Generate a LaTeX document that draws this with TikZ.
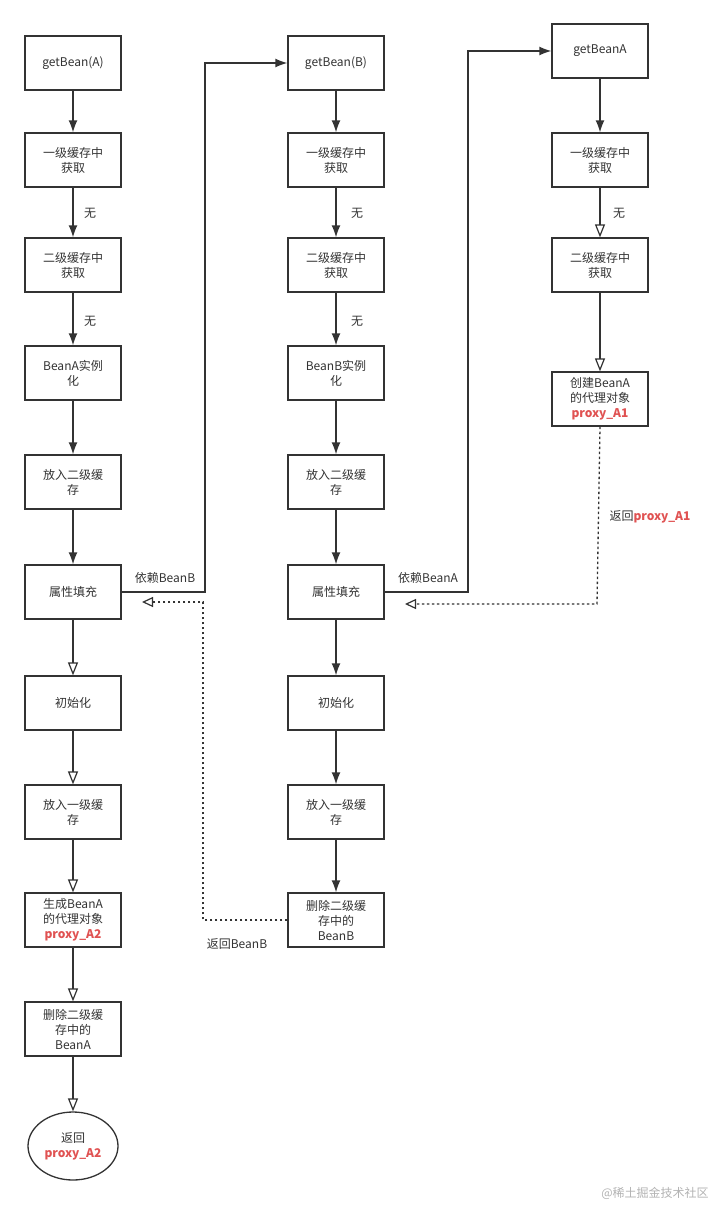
\documentclass[tikz,border=0pt]{standalone}
\usepackage{fontspec}
\setmainfont{Noto Sans CJK SC}
\usetikzlibrary{arrows.meta,shapes.geometric}
\definecolor{rd}{HTML}{E05252}
\definecolor{ln}{HTML}{333333}
\begin{document}
\begin{tikzpicture}[x=1pt,y=-1pt,
 bx/.style={draw=ln,line width=1.3pt,minimum width=96pt,minimum height=54pt,align=center,inner sep=1pt,font=\fontsize{12}{15}\selectfont,text=ln},
 fa/.style={draw=ln,line width=1.4pt,-{Latex[length=12pt,width=9pt]}},
 oa/.style={draw=ln,line width=1.4pt,-{Triangle[open,length=13pt,width=10pt,line width=1.2pt]}},
 da/.style={draw=ln,line width=1.3pt,dash pattern=on 2.5pt off 2.5pt,-{Triangle[open,length=11pt,width=10pt,line width=1.2pt]}},
 lb/.style={font=\fontsize{12}{15}\selectfont,text=ln,inner sep=1pt}]
\useasboundingbox (0,0) rectangle (726,1207);
\node[bx] (a1) at (73,63) {getBean(A)};
\node[bx] (a2) at (73,160) {一级缓存中\\获取};
\node[bx] (a3) at (73,265) {二级缓存中\\获取};
\node[bx] (a4) at (73,373) {BeanA实例\\化};
\node[bx] (a5) at (73,482) {放入二级缓\\存};
\node[bx] (a6) at (73,592) {属性填充};
\node[bx] (a7) at (73,703) {初始化};
\node[bx] (a8) at (73,812) {放入一级缓\\存};
\node[bx] (a9) at (73,920) {生成BeanA\\的代理对象\\\textcolor{rd}{\bfseries proxy\_A2}};
\node[bx] (a10) at (73,1029) {删除二级缓\\存中的\\BeanA};
\node[draw=ln,line width=1.3pt,ellipse,minimum width=90pt,minimum height=68pt,align=center,inner sep=0pt,font=\fontsize{12}{15}\selectfont,text=ln] (a11) at (73,1146) {返回\\\textcolor{rd}{\bfseries proxy\_A2}};
\node[bx] (b1) at (336,63) {getBean(B)};
\node[bx] (b2) at (336,160) {一级缓存中\\获取};
\node[bx] (b3) at (336,265) {二级缓存中\\获取};
\node[bx] (b4) at (336,373) {BeanB实例\\化};
\node[bx] (b5) at (336,482) {放入二级缓\\存};
\node[bx] (b6) at (336,592) {属性填充};
\node[bx] (b7) at (336,703) {初始化};
\node[bx] (b8) at (336,812) {放入一级缓\\存};
\node[bx] (b9) at (336,920) {删除二级缓\\存中的\\BeanB};
\node[bx] (c1) at (600,51) {getBeanA};
\node[bx] (c2) at (600,160) {一级缓存中\\获取};
\node[bx] (c3) at (600,265) {二级缓存中\\获取};
\node[bx] (c4) at (600,399) {创建BeanA\\的代理对象\\\textcolor{rd}{\bfseries proxy\_A1}};
\foreach \u/\v in {a1/a2,a2/a3,a3/a4,a4/a5,a5/a6,b1/b2,b2/b3,b3/b4,b4/b5,b5/b6,b6/b7,b7/b8,b8/b9,c1/c2}
 \draw[fa] (\u) -- (\v);
\foreach \u/\v in {a6/a7,a7/a8,a8/a9,a9/a10,a10/a11,c3/c4,c2/c3}
 \draw[oa] (\u) -- (\v);
\draw[fa] (a6.east) -- (205,592) -- (205,63) -- (b1.west);
\draw[fa] (b6.east) -- (468,592) -- (468,51) -- (c1.west);
\coordinate (t1) at (142,602);
\coordinate (t2) at (405,604);
\draw[da] (c4.south) -- (597,604) -- (t2);
\draw[da] (b9.west) -- (203,920) -- (203,602) -- (t1);
\node[lb] (l1) at (90,213) {无};
\node[lb] (l2) at (90,321) {无};
\node[lb] (l3) at (357,213) {无};
\node[lb] (l4) at (357,321) {无};
\node[lb] (l5) at (619,213) {无};
\node[lb] (l6) at (165,578) {依赖BeanB};
\node[lb] (l7) at (428,578) {依赖BeanA};
\node[lb] (l8) at (237,944) {返回BeanB};
\node[lb] (l9) at (650,517) {返回\textcolor{rd}{\bfseries proxy\_A1}};
\node[lb,text=gray!60,font=\fontsize{12}{14}\selectfont] (wm) at (655,1193) {@稀土掘金技术社区};
\end{tikzpicture}
\end{document}
